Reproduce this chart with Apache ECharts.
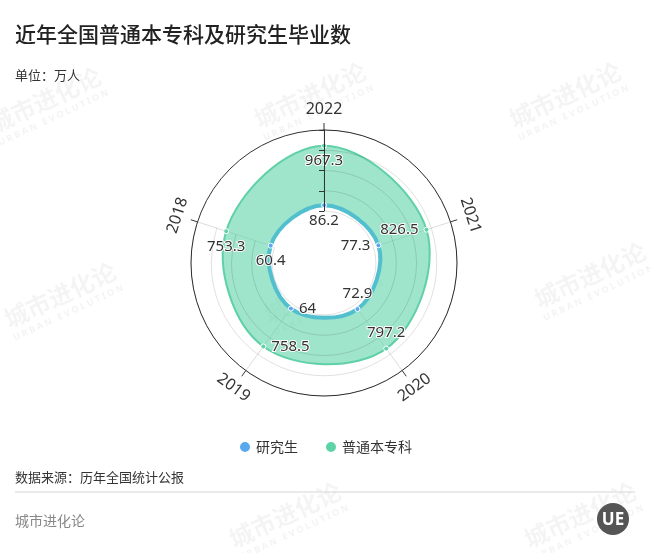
<!DOCTYPE html>
<html>
<head>
<meta charset="utf-8">
<script src="https://cdn.jsdelivr.net/npm/echarts@6/dist/echarts.min.js"></script>
<style>html,body{margin:0;padding:0;background:#fff}#c{width:650px;height:553px}</style>
</head>
<body>
<div id="c"></div>
<script>
// ---- data ----
const years = ['2022', '2021', '2020', '2019', '2018'];
const gradValues = [86.2, 77.3, 72.9, 64, 60.4];             // 研究生
const undergradValues = [967.3, 826.5, 797.2, 758.5, 753.3]; // 普通本专科
const radiusMax = 1200;
const radiusInterval = 300;
const seriesNames = ['研究生', '普通本专科'];

// ---- styles ----
const labelPositions = ['bottom', 'left', 'top', 'right', 'bottom'];
const BLUE = '#5aa9ee', GREEN = '#5fd3a8';
const NUMFONT = '"Noto Sans", "Noto Sans CJK SC", sans-serif';
const CJK = '"Noto Sans CJK SC", "Noto Sans", sans-serif';

const chart = echarts.init(document.getElementById('c'), null, {renderer: 'canvas'});

function buildData(vals) {
  return vals.map((v, i) => ({value: [v, i], label: {position: labelPositions[i]}}));
}
const labelStyle = {
  show: true, distance: 5, fontSize: 15, color: '#333', fontFamily: NUMFONT,
  textBorderColor: '#fff', textBorderWidth: 2,
  formatter: (p) => String(p.value[0])
};

// closed smooth outline through the polar scale
function closedShape(values, style) {
  return function (params, api) {
    if (params.dataIndex !== 0) return null;
    const pts = values.map((v, i) => api.coord([v, i]));
    return {type: 'polygon', shape: {points: pts, smooth: 0.38}, style: style, silent: true};
  };
}

function watermark(x, y) {
  return {
    type: 'group', x: x, y: y, rotation: 25 * Math.PI / 180, silent: true, z: 0,
    children: [
      {type: 'text', style: {text: '城市进化论', x: 0, y: 0, align: 'center', verticalAlign: 'middle',
        font: 'bold 24px "Noto Sans CJK SC"', fill: 'rgba(0,0,0,0.045)'}},
      {type: 'text', style: {text: 'U R B A N   E V O L U T I O N', x: 0, y: 20, align: 'center', verticalAlign: 'middle',
        font: 'bold 9px "Noto Sans"', fill: 'rgba(0,0,0,0.05)'}}
    ]
  };
}

const option = {
  backgroundColor: '#fff',
  animation: false,
  title: [
    {text: '近年全国普通本专科及研究生毕业数', left: 15, top: 24, padding: 0,
      textStyle: {fontSize: 21, fontWeight: 500, color: '#222', fontFamily: CJK}},
    {text: '单位：万人', left: 15, top: 69, padding: 0,
      textStyle: {fontSize: 13, fontWeight: 'normal', color: '#333', fontFamily: CJK}},
    {text: '数据来源：历年全国统计公报', left: 15, top: 471, padding: 0,
      textStyle: {fontSize: 13, fontWeight: 'normal', color: '#333', fontFamily: CJK}},
    {text: '城市进化论', left: 15, top: 514, padding: 0,
      textStyle: {fontSize: 14, fontWeight: 'normal', color: '#888', fontFamily: CJK}}
  ],
  legend: {
    data: seriesNames, top: 435, left: 'center', icon: 'circle', itemWidth: 12, itemHeight: 12, itemGap: 26,
    textStyle: {fontSize: 14, color: '#333', fontFamily: CJK}
  },
  polar: {center: [324, 263], radius: [52, 133]},
  angleAxis: {
    type: 'category', data: years, boundaryGap: false, startAngle: 90, clockwise: true,
    axisLine: {show: true, lineStyle: {color: '#333', width: 1}},
    axisTick: {show: true, length: 7, lineStyle: {color: '#333'}},
    axisLabel: {show: false},
    splitLine: {show: true, lineStyle: {color: '#ddd'}}
  },
  radiusAxis: {
    type: 'value', min: 0, max: radiusMax, interval: radiusInterval, z: 5,
    axisLine: {show: true, lineStyle: {color: '#333', width: 1}},
    axisTick: {show: true, length: 5, lineStyle: {color: '#333'}},
    axisLabel: {show: false},
    splitLine: {show: true, lineStyle: {color: 'rgba(0,0,0,0.12)'}}
  },
  series: [
    {
      name: 'area-undergrad', type: 'custom', coordinateSystem: 'polar', z: 2, silent: true,
      data: undergradValues.map((v, i) => [v, i]),
      renderItem: closedShape(undergradValues, {fill: 'rgba(95,211,168,0.6)', stroke: '#5fd0a8', lineWidth: 2})
    },
    {
      name: 'area-grad', type: 'custom', coordinateSystem: 'polar', z: 3, silent: true,
      data: gradValues.map((v, i) => [v, i]),
      renderItem: closedShape(gradValues, {fill: '#fff', stroke: '#52bfcf', lineWidth: 4})
    },
    {
      name: seriesNames[1], type: 'line', coordinateSystem: 'polar', z: 4,
      data: buildData(undergradValues),
      symbol: 'circle', symbolSize: 5,
      itemStyle: {color: GREEN, borderColor: '#fff', borderWidth: 1},
      lineStyle: {width: 0, opacity: 0},
      label: labelStyle
    },
    {
      name: seriesNames[0], type: 'line', coordinateSystem: 'polar', z: 4,
      data: buildData(gradValues),
      symbol: 'circle', symbolSize: 5,
      itemStyle: {color: BLUE, borderColor: '#fff', borderWidth: 1},
      lineStyle: {width: 0, opacity: 0},
      label: labelStyle
    }
  ]
};
chart.setOption(option);

// angle-axis labels: tangentially rotated, positioned through the polar scale
const graphics = [];
years.forEach((y) => {
  const outer = chart.convertToPixel({polarIndex: 0}, [radiusMax, y]);
  const inner = chart.convertToPixel({polarIndex: 0}, [0, y]);
  const dx = outer[0] - inner[0], dy = outer[1] - inner[1];
  const len = Math.sqrt(dx * dx + dy * dy);
  const ux = dx / len, uy = dy / len;
  let theta = Math.atan2(ux, -uy) * 180 / Math.PI; // clockwise from top
  if (theta < 0) theta += 360;
  let cw = theta;
  if (theta > 90 && theta < 270) cw = theta - 180;
  else if (theta >= 270) cw = theta - 360;
  graphics.push({
    type: 'text', x: outer[0] + ux * 21, y: outer[1] + uy * 21, rotation: -cw * Math.PI / 180, z: 10,
    style: {text: y, align: 'center', verticalAlign: 'middle', fill: '#333',
      font: '16px "Noto Sans", sans-serif'}
  });
});
// separator line
graphics.push({type: 'line', shape: {x1: 15, y1: 492, x2: 635, y2: 492}, style: {stroke: '#d5d5d5', lineWidth: 1}, z: 1});
// logo
graphics.push({type: 'circle', shape: {cx: 613, cy: 519, r: 16}, style: {fill: '#555'}, z: 10});
graphics.push({type: 'text', x: 613, y: 520, z: 11, style: {text: 'UE', align: 'center', verticalAlign: 'middle',
  fill: '#fff', font: 'bold 17px "Noto Sans"'}});
// watermarks
[[45, 100], [310, 95], [565, 95], [60, 295], [320, 290], [590, 275], [285, 515], [580, 515]].forEach(p => graphics.push(watermark(p[0], p[1])));
chart.setOption({graphic: graphics});
</script>
</body>
</html>
